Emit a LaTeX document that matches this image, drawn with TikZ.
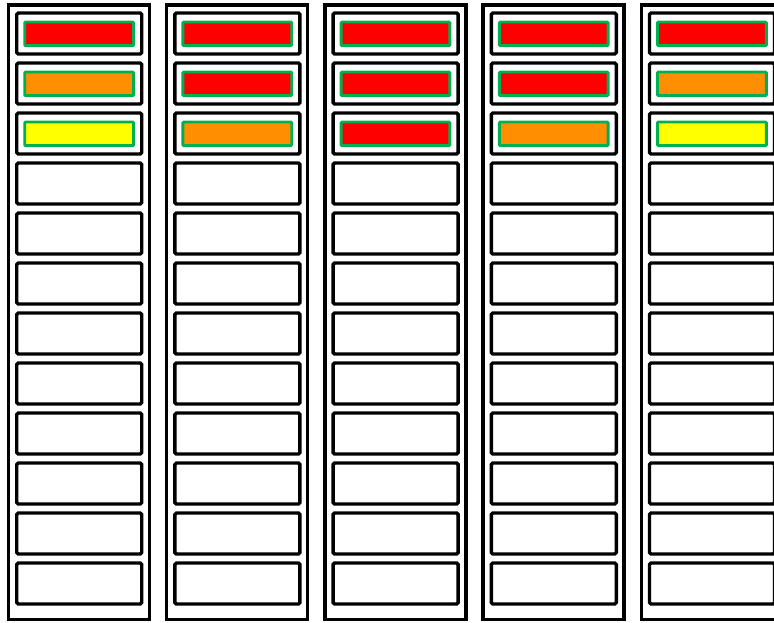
\documentclass[tikz,border=0pt]{standalone}
\definecolor{lvred}{HTML}{FF0000}
\definecolor{lvorange}{HTML}{FF8F00}
\definecolor{lvyellow}{HTML}{FFFF00}
\definecolor{lvgreen}{HTML}{00B050}
\tikzset{
  rackbox/.style={draw=black, line width=3.4pt, fill=white},
  slotbox/.style={draw=black, line width=3.4pt, rounded corners=1.5pt, fill=white},
  ledbox/.style={draw=lvgreen, line width=2.9pt, rounded corners=1pt}
}
\begin{document}
\begin{tikzpicture}[x=1pt,y=-1pt]
\useasboundingbox (0,0) rectangle (774,623);
\clip (0,0) rectangle (774,623);
\foreach \c/\a/\b/\d [count=\i from 0] in {0/lvred/lvorange/lvyellow, 1/lvred/lvred/lvorange, 2/lvred/lvred/lvred, 3/lvred/lvred/lvorange, 4/lvred/lvorange/lvyellow}{
  \pgfmathsetmacro{\ox}{8.5+158.2*\c}
  \draw[rackbox] (\ox,5) rectangle ++(141,614.5);
  \foreach \s in {0,...,11}{
    \draw[slotbox] ({\ox+8.2},{13+50*\s}) rectangle ++(125,41);
  }
  \draw[ledbox, fill=\a] ({\ox+16.2},22) rectangle ++(108.8,23.7);
  \draw[ledbox, fill=\b] ({\ox+16.2},72) rectangle ++(108.8,23.7);
  \draw[ledbox, fill=\d] ({\ox+16.2},122) rectangle ++(108.8,23.7);
}
\end{tikzpicture}
\end{document}
